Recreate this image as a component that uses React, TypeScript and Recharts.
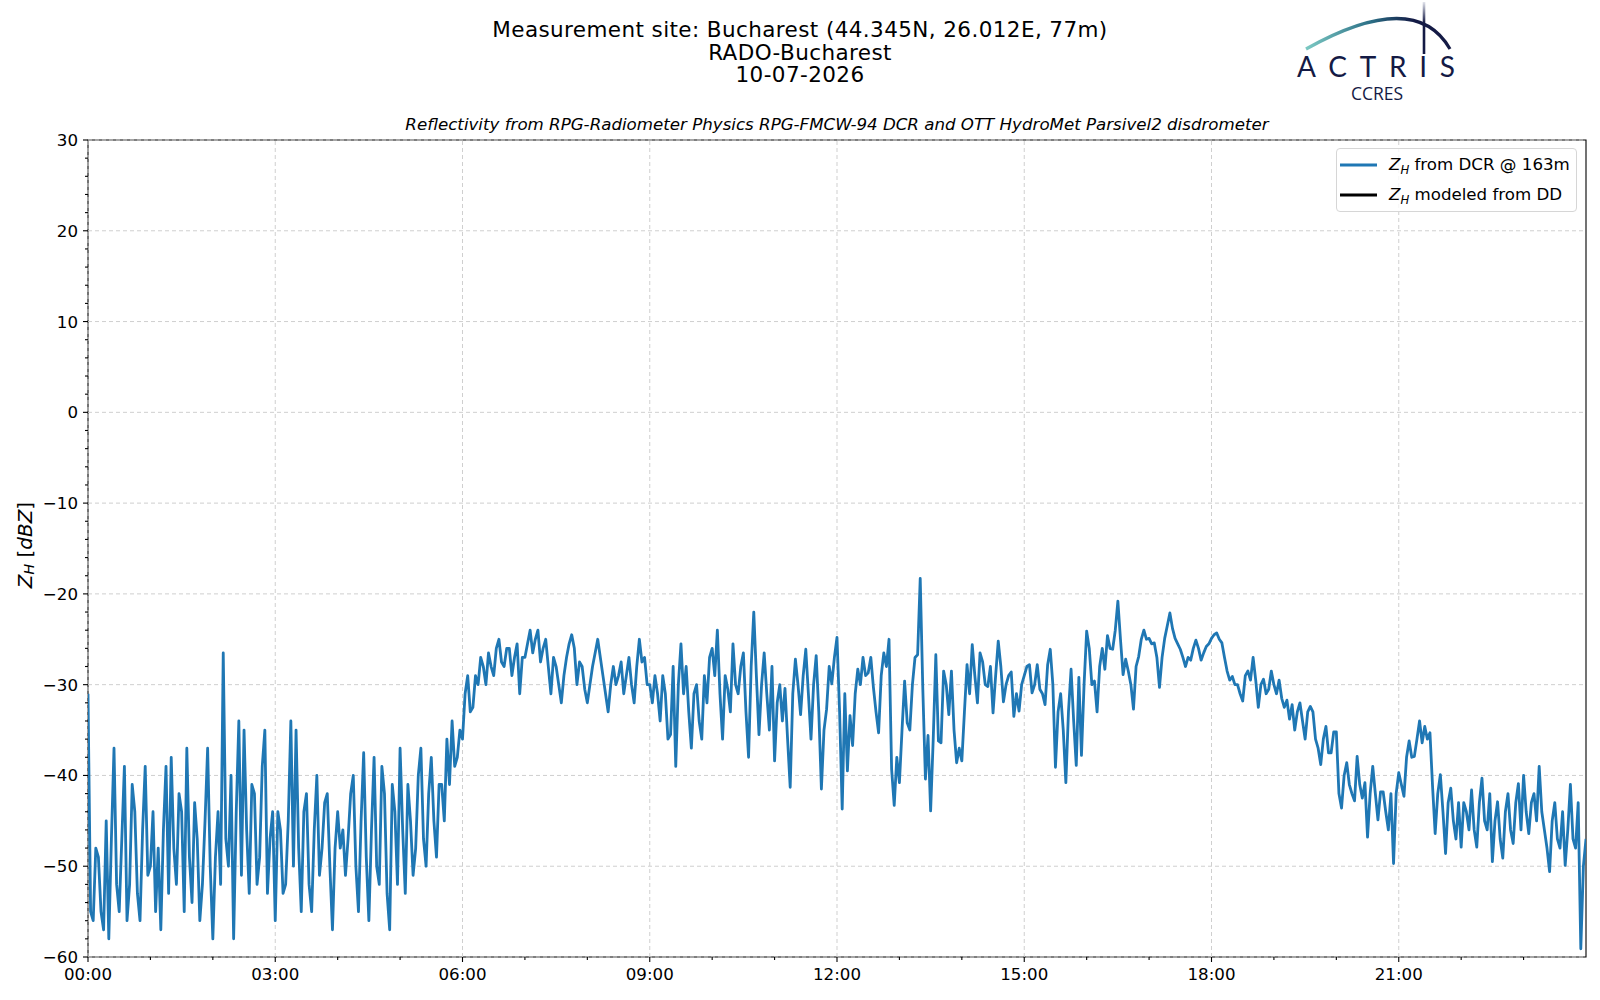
import React from 'react';
import {
  LineChart,
  Line,
  XAxis,
  YAxis,
  Legend,
  ReferenceLine,
  ReferenceArea,
} from 'recharts';

const FONT = '"DejaVu Sans", sans-serif';

// Z_H from DCR (dBZ), one value every 2.5 minutes (24 per hour)
const STEP_MIN = 2.5;

const ZH_00_06 = [
  -31, -55, -56, -48, -49, -55, -57, -45, -58, -47, -37, -52, -55, -47, -39, -56, -52, -41, -44, -53, -56, -46, -39, -51,
  -50, -44, -55, -48, -57, -46, -39, -53, -38, -48, -52, -42, -44, -55, -37, -49, -54, -43, -47, -56, -52, -45, -37, -50,
  -58, -49, -44, -52, -26.5, -47, -50, -40, -58, -44, -34, -51, -35, -46, -53, -41, -42, -52, -49, -39, -35, -53, -47, -44,
  -56, -44, -46, -53, -52, -45, -34, -50, -35, -48, -55, -44, -42, -52, -55, -46, -40, -51, -48, -43, -42, -50, -57, -48,
  -44, -48, -46, -51, -47, -42, -40, -50, -55, -45, -37.5, -49, -56, -46, -38, -50, -52, -39, -42, -53, -57, -41, -44, -52,
  -37, -46, -53, -41, -45, -51, -48, -40, -37, -47, -50, -42, -38, -45, -49, -41, -41, -45, -36, -41, -34, -39, -38, -35,
];

const ZH_06_12 = [
  -36, -31, -29, -33, -32.5, -29, -30, -27, -28, -30, -26.5, -28, -29, -26, -25, -27.5, -28, -26, -26, -29, -27, -25.5, -31, -27,
  -27, -25.5, -24, -26.5, -25, -24, -27.5, -26, -25, -28, -31, -27, -28, -30, -32, -29, -27, -25.5, -24.5, -26, -30, -27.5, -28, -30.5,
  -32, -30, -28, -26.5, -25, -27, -29, -31, -33, -30, -28, -30, -29, -27.5, -31, -29, -27, -30, -32, -28, -25, -27.5, -27, -30,
  -30, -32, -29, -31, -34, -29, -31, -36, -35.5, -28, -39, -30, -25.5, -31, -28, -33, -37, -31, -30, -34, -36, -29, -32, -27,
  -26, -29, -24, -31, -36, -29, -30.5, -33, -25.5, -30, -31, -28, -26.5, -33, -38, -28, -22, -29, -35.5, -30, -26.5, -31, -35, -28,
  -38.4, -32, -30, -34, -30.4, -36, -41.3, -31, -27.2, -30, -33.3, -29, -26.1, -31, -36, -30, -26.8, -33, -41.5, -35, -32.7, -28, -29.9, -27,
];

const ZH_12_18 = [
  -24.8, -33, -43.7, -31, -39.5, -33.4, -36.7, -31, -28.3, -30, -27, -29, -28.7, -27, -30.3, -33, -35.3, -29, -26.5, -28, -25, -39.3, -43.3, -38,
  -40.8, -35, -29.6, -34.2, -35, -30, -27, -26.7, -18.3, -30.5, -40.4, -35.6, -43.9, -36, -26.7, -36.2, -36.4, -28.5, -30, -33.3, -28.5, -35, -38.6, -37,
  -38.4, -33, -27.8, -31, -25.6, -29, -32, -26.5, -27.5, -30, -30.2, -28, -33.1, -29, -25.2, -28, -31.9, -30, -29, -28.6, -33.5, -31, -32.9, -30,
  -29, -28, -27.8, -30.9, -30, -27.8, -30.5, -31, -32.2, -27.8, -26.1, -30, -39.1, -33, -31, -35, -40.8, -33, -28.3, -34, -38.9, -29.2, -37.8, -30,
  -24.1, -26, -30, -29.6, -33, -28, -26, -28.3, -24.6, -26, -26.1, -24, -20.8, -25, -28.9, -27.2, -28.5, -30, -32.7, -28, -26.9, -25, -24, -25,
  -24.9, -25.5, -25.4, -27, -30.3, -27, -24.9, -23.5, -22.1, -23.8, -24.9, -25.5, -26.1, -27, -28, -27, -27.3, -26, -25.1, -26, -27.3, -26.5, -25.8, -25.5,
];

const ZH_18_24 = [
  -24.9, -24.5, -24.3, -25, -25.4, -27, -28.5, -29.5, -29.1, -30, -30, -31, -31.8, -29, -28.5, -29.5, -27, -29.5, -32.5, -30, -29.4, -31, -30.5, -28.5,
  -30, -31, -29.5, -31.5, -32.5, -31.7, -33.8, -32.2, -35, -33, -32, -34, -36, -33, -32.4, -33, -36, -37, -38.8, -36, -34.6, -37.5, -37.5, -35.2,
  -35.2, -42, -43.6, -40, -38.6, -41, -42, -42.8, -37.9, -41, -42.5, -40.8, -46.8, -42, -39, -42, -44.9, -41.8, -41.8, -44, -46, -42, -49.7, -42,
  -39.7, -41, -42.3, -38, -36.2, -38, -37.9, -36, -34, -36.4, -34.6, -36, -35.3, -41.2, -46.4, -42, -39.9, -44, -48.6, -43, -41.4, -45, -47, -43,
  -47.9, -43, -44, -46, -41.6, -46, -47.9, -43, -40.3, -45, -46, -42, -49.5, -45, -42.9, -47, -49.1, -44, -42, -46, -47.5, -43, -40.9, -46,
  -40, -44, -46.4, -43, -42, -45, -39, -44, -46, -48, -50.6, -45, -43, -47, -48, -44, -49.9, -46, -41, -47, -48, -43, -59.1, -50,
  -47,
];

const X_MAJOR = [0, 180, 360, 540, 720, 900, 1080, 1260];
const Y_MAJOR = [-60, -50, -40, -30, -20, -10, 0, 10, 20, 30];

const TITLE_LINES = [
  'Measurement site: Bucharest (44.345N, 26.012E, 77m)',
  'RADO-Bucharest',
  '10-07-2026',
];
const SUBTITLE =
  'Reflectivity from RPG-Radiometer Physics RPG-FMCW-94 DCR and OTT HydroMet Parsivel2 disdrometer';

const LEGEND_ORDER = ['zh', 'dd'];
const LEGEND_TEXT: Record<string, string> = {
  zh: ' from DCR @ 163m',
  dd: ' modeled from DD',
};

const data = [...ZH_00_06, ...ZH_06_12, ...ZH_12_18, ...ZH_18_24].map((v, i) => ({
  t: i * STEP_MIN,
  zh: v,
}));

// every hour on x, every 2 dBZ on y; labels only on the majors
const xTicks: number[] = [];
for (let m = 0; m <= 1380; m += 60) xTicks.push(m);
const yTicks: number[] = [];
for (let v = -60; v <= 30; v += 2) yTicks.push(v);

const fmtHM = (m: number) => `${String(Math.floor(m / 60)).padStart(2, '0')}:00`;
const fmtNum = (v: number) => String(v).replace('-', '\u2212');

function XTick({ x, y, payload }: any) {
  const major = X_MAJOR.includes(payload.value);
  return (
    <g>
      <line x1={x} x2={x} y1={y} y2={y + (major ? 5 : 3)} stroke="#000" strokeWidth={1.1} />
      {major && (
        <text x={x} y={y + 10} dy="0.76em" textAnchor="middle" fontSize={16.67} fontFamily={FONT} fill="#000">
          {fmtHM(payload.value)}
        </text>
      )}
    </g>
  );
}

function YTick({ x, y, payload }: any) {
  const major = Y_MAJOR.includes(payload.value);
  return (
    <g>
      <line x1={x - (major ? 5 : 3)} x2={x} y1={y} y2={y} stroke="#000" strokeWidth={1.1} />
      {major && (
        <text x={x - 10} y={y} dy="0.36em" textAnchor="end" fontSize={16.67} fontFamily={FONT} fill="#000">
          {fmtNum(payload.value)}
        </text>
      )}
    </g>
  );
}

function LegendBox({ payload }: any) {
  const items = [...(payload || [])].sort(
    (a: any, b: any) => LEGEND_ORDER.indexOf(a.dataKey) - LEGEND_ORDER.indexOf(b.dataKey),
  );
  return (
    <div
      style={{
        width: 241,
        height: 64,
        boxSizing: 'border-box',
        border: '1px solid #d6d6d6',
        borderRadius: 4,
        background: 'rgba(255,255,255,0.8)',
        paddingTop: 1,
        fontFamily: FONT,
        fontSize: 16.67,
        color: '#000',
      }}
    >
      {items.map((p: any) => (
        <div key={p.dataKey} style={{ height: 30, display: 'flex', alignItems: 'center', lineHeight: 1 }}>
          <svg width={52} height={30} style={{ flex: 'none' }}>
            <line x1={3} x2={40} y1={15} y2={15} stroke={p.color} strokeWidth={2.8} />
          </svg>
          <span style={{ whiteSpace: 'nowrap' }}>
            <i>Z</i>
            <i style={{ fontSize: '0.7em', position: 'relative', top: 4 }}>H</i>
            {LEGEND_TEXT[p.dataKey]}
          </span>
        </div>
      ))}
    </div>
  );
}

function Header() {
  return (
    <svg
      width={1600}
      height={1000}
      style={{ position: 'absolute', left: 0, top: 0, pointerEvents: 'none' }}
    >
      <defs>
        <linearGradient id="arcGrad" x1="1306" y1="0" x2="1450" y2="0" gradientUnits="userSpaceOnUse">
          <stop offset="0" stopColor="#7cc9c3" />
          <stop offset="0.45" stopColor="#2b6f86" />
          <stop offset="0.75" stopColor="#141a45" />
          <stop offset="1" stopColor="#141a45" />
        </linearGradient>
        <linearGradient id="barGrad" x1="0" y1="2" x2="0" y2="54" gradientUnits="userSpaceOnUse">
          <stop offset="0" stopColor="#e2e4ec" />
          <stop offset="0.4" stopColor="#141a45" />
          <stop offset="1" stopColor="#141a45" />
        </linearGradient>
      </defs>
      {TITLE_LINES.map((s, i) => (
        <text
          key={s}
          x={800}
          y={37 + i * 22.5}
          textAnchor="middle"
          fontSize={21.5}
          letterSpacing={0.4}
          fontFamily={FONT}
          fill="#000"
        >
          {s}
        </text>
      ))}
      <text x={837} y={130} textAnchor="middle" fontSize={16.67} fontStyle="italic" fontFamily={FONT} fill="#000">
        {SUBTITLE}
      </text>
      <path d="M1306,49 Q1415,-12 1450,49" fill="none" stroke="url(#arcGrad)" strokeWidth={3.2} />
      <line x1={1424} x2={1424} y1={2} y2={54} stroke="url(#barGrad)" strokeWidth={2.6} />
      <text x={1297} y={77} fontSize={28} fontFamily="Lato, sans-serif" fill="#141a45" textLength={158} lengthAdjust="spacing">
        ACTRIS
      </text>
      <text x={1351} y={100} fontSize={17.5} fontFamily='"Open Sans", sans-serif' fill="#141a45" textLength={52} lengthAdjust="spacing">
        CCRES
      </text>
      <text
        x={25}
        y={545}
        transform="rotate(-90 25 545)"
        textAnchor="middle"
        dominantBaseline="central"
        fontSize={20}
        fontFamily={FONT}
        fill="#000"
      >
        <tspan fontStyle="italic">Z</tspan>
        <tspan fontStyle="italic" fontSize={14} dy={4}>H</tspan>
        <tspan dy={-4}> [</tspan>
        <tspan fontStyle="italic">dBZ</tspan>
        <tspan>]</tspan>
      </text>
    </svg>
  );
}

export default function App() {
  return (
    <div style={{ position: 'absolute', left: 0, top: 0, width: 1600, height: 1000, background: '#fff' }}>
      <LineChart width={1600} height={1000} data={data} margin={{ top: 140, right: 14, bottom: 0, left: 0 }}>
        <XAxis
          dataKey="t"
          type="number"
          domain={[0, 1440]}
          ticks={xTicks}
          interval={0}
          tick={<XTick />}
          tickLine={false}
          axisLine={false}
          tickSize={0}
          tickMargin={0}
          height={43}
          allowDataOverflow
        />
        <YAxis
          type="number"
          domain={[-60, 30]}
          ticks={yTicks}
          interval={0}
          tick={<YTick />}
          tickLine={false}
          axisLine={false}
          tickSize={0}
          tickMargin={0}
          width={88}
          allowDataOverflow
        />
        {X_MAJOR.map((v) => (
          <ReferenceLine key={`gx${v}`} x={v} stroke="#cfcfcf" strokeWidth={1} strokeDasharray="4 3" />
        ))}
        {Y_MAJOR.map((v) => (
          <ReferenceLine key={`gy${v}`} y={v} stroke="#cfcfcf" strokeWidth={1} strokeDasharray="4 3" />
        ))}
        <Line
          dataKey="zh"
          type="linear"
          stroke="#1f77b4"
          strokeWidth={2.8}
          strokeLinejoin="round"
          dot={false}
          isAnimationActive={false}
        />
        <Line dataKey="dd" type="linear" stroke="#000000" strokeWidth={2.8} dot={false} isAnimationActive={false} />
        <ReferenceArea x1={0} x2={1440} y1={-60} y2={30} fill="none" stroke="#000" strokeWidth={1.1} />
        <Legend
          layout="vertical"
          align="center"
          verticalAlign="middle"
          wrapperStyle={{ left: 1336, top: 148, width: 241 }}
          content={<LegendBox />}
        />
      </LineChart>
      <Header />
    </div>
  );
}
